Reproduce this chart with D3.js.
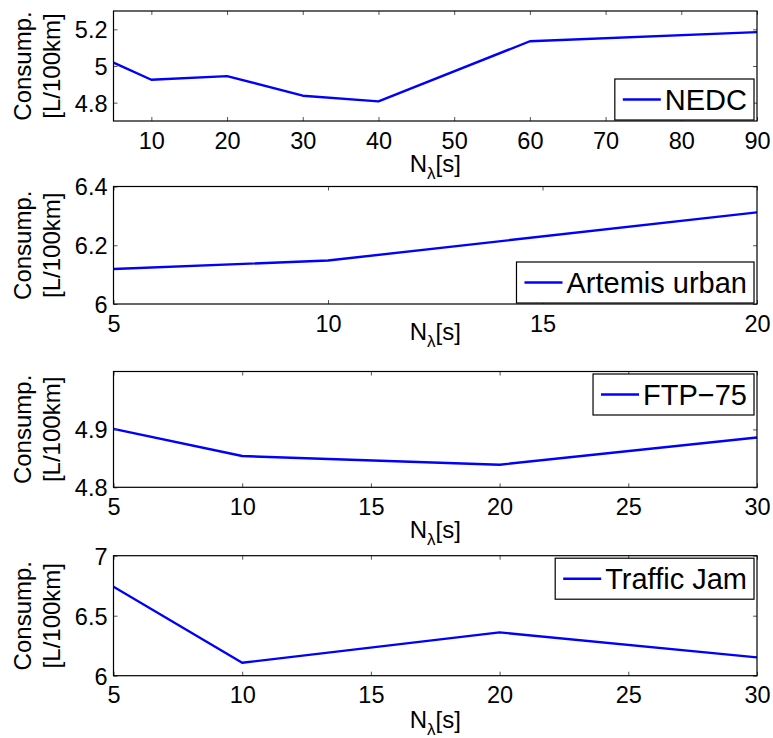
<!DOCTYPE html>
<html>
<head>
<meta charset="utf-8">
<script src="https://cdn.jsdelivr.net/npm/d3@7"></script>
<style>
  html, body { margin: 0; padding: 0; background: #fff; }
  svg { display: block; font-family: "Liberation Sans", Arial, Helvetica, sans-serif; }
</style>
</head>
<body>
<svg id="chart" width="773" height="738"></svg>
<script>
// ---- data ----
const nedcX = [5, 10, 20, 30, 40, 60, 90];
const nedcY = [5.018, 4.925, 4.945, 4.838, 4.807, 5.135, 5.185];
const artemisX = [5, 10, 20];
const artemisY = [6.119, 6.148, 6.312];
const ftpX = [5, 10, 20, 30];
const ftpY = [4.901, 4.854, 4.839, 4.886];
const jamX = [5, 10, 20, 30];
const jamY = [6.742, 6.108, 6.361, 6.153];

const nedcXTicks = [10, 20, 30, 40, 50, 60, 70, 80, 90];
const nedcYTicks = [4.8, 5, 5.2];
const artemisXTicks = [5, 10, 15, 20];
const artemisYTicks = [6, 6.2, 6.4];
const ftpXTicks = [5, 10, 15, 20, 25, 30];
const ftpYTicks = [4.8, 4.9];
const jamXTicks = [5, 10, 15, 20, 25, 30];
const jamYTicks = [6, 6.5, 7];

const legendNames = ["NEDC", "Artemis urban", "FTP\u221275", "Traffic Jam"];
const yLabelLines = ["Consump.", "[L/100km]"];

// ---- layout ----
const svg = d3.select("#chart");
const left = 113.5, right = 757;
const panels = [
  { x: nedcX, y: nedcY, xd: [5, 90], yd: [4.7, 5.3], xt: nedcXTicks, yt: nedcYTicks,
    top: 11, bottom: 121, legend: legendNames[0], pos: "SE", xlabOff: 51 },
  { x: artemisX, y: artemisY, xd: [5, 20], yd: [6, 6.4], xt: artemisXTicks, yt: artemisYTicks,
    top: 186.5, bottom: 304, legend: legendNames[1], pos: "SE", xlabOff: 36 },
  { x: ftpX, y: ftpY, xd: [5, 30], yd: [4.8, 5.0], xt: ftpXTicks, yt: ftpYTicks,
    top: 371.5, bottom: 487.3, legend: legendNames[2], pos: "NE", xlabOff: 51 },
  { x: jamX, y: jamY, xd: [5, 30], yd: [6, 7], xt: jamXTicks, yt: jamYTicks,
    top: 555.7, bottom: 675.7, legend: legendNames[3], pos: "NE", xlabOff: 52 }
];

const tickFont = 23.5, labFont = 24, legFont = 29, tickLen = 4;

panels.forEach((p, i) => {
  const xs = d3.scaleLinear().domain(p.xd).range([left, right]);
  const ys = d3.scaleLinear().domain(p.yd).range([p.bottom, p.top]);
  const g = svg.append("g");

  // clip
  const cid = "clip" + i;
  svg.append("clipPath").attr("id", cid).append("rect")
    .attr("x", left).attr("y", p.top).attr("width", right - left).attr("height", p.bottom - p.top);

  // data line
  const pts = p.x.map((v, k) => [v, p.y[k]]);
  g.append("path")
    .attr("d", d3.line().x(d => xs(d[0])).y(d => ys(d[1]))(pts))
    .attr("fill", "none").attr("stroke", "#0000ff").attr("stroke-width", 2.4)
    .attr("stroke-linejoin", "round")
    .attr("clip-path", `url(#${cid})`);

  // axes (ticks inward, mirrored)
  const fmt = d => String(d);
  const xb = g.append("g").attr("transform", `translate(0,${p.bottom})`)
    .call(d3.axisBottom(xs).tickValues(p.xt).tickSize(-tickLen).tickPadding(10).tickFormat(fmt));
  const xtAx = g.append("g").attr("transform", `translate(0,${p.top})`)
    .call(d3.axisTop(xs).tickValues(p.xt).tickSize(-tickLen).tickFormat(""));
  const yl = g.append("g").attr("transform", `translate(${left},0)`)
    .call(d3.axisLeft(ys).tickValues(p.yt).tickSize(-tickLen).tickPadding(6).tickFormat(fmt));
  const yr = g.append("g").attr("transform", `translate(${right},0)`)
    .call(d3.axisRight(ys).tickValues(p.yt).tickSize(-tickLen).tickFormat(""));
  [xb, xtAx, yl, yr].forEach(a => {
    a.select(".domain").remove();
    a.selectAll(".tick line").attr("stroke", "#555").attr("stroke-width", 1);
    a.selectAll("text").attr("font-size", tickFont).attr("fill", "#000")
      .attr("font-family", "Liberation Sans, Arial, sans-serif");
  });
  xb.selectAll(".tick text").attr("dy", null).attr("y", 27.5).attr("dominant-baseline", "auto");
  yl.selectAll(".tick text").attr("dy", "0.36em");

  // box
  g.append("rect").attr("x", left).attr("y", p.top)
    .attr("width", right - left).attr("height", p.bottom - p.top)
    .attr("fill", "none").attr("stroke", "#000").attr("stroke-width", 1.2);

  // y label
  const cy = (p.top + p.bottom) / 2;
  [31, 60].forEach((bx, k) => {
    g.append("text").attr("transform", `translate(${bx},${cy}) rotate(-90)`)
      .attr("text-anchor", "middle").attr("font-size", labFont).attr("fill", "#000")
      .text(yLabelLines[k]);
  });

  // x label N_λ[s]
  const xl = g.append("text").attr("x", (left + right) / 2).attr("y", p.bottom + p.xlabOff)
    .attr("text-anchor", "middle").attr("font-size", labFont).attr("fill", "#000");
  xl.append("tspan").text("N");
  xl.append("tspan").attr("font-size", 17).attr("dy", 7).text("\u03bb");
  xl.append("tspan").attr("dy", -7).text("[s]");

  // legend
  const lg = g.append("g");
  const lt = lg.append("text").attr("font-size", legFont).attr("fill", "#000").text(p.legend);
  const tw = lt.node().getComputedTextLength();
  const padL = 8, lineLen = 38, gap = 4, padR = 7, bh = 41;
  const bw = padL + lineLen + gap + tw + padR;
  const bx = right - 3 - bw;
  const by = p.pos === "SE" ? p.bottom - 1 - bh : p.top + 2.5;
  lg.insert("rect", "text").attr("x", bx).attr("y", by).attr("width", bw).attr("height", bh)
    .attr("fill", "#fff").attr("stroke", "#000").attr("stroke-width", 1.2);
  lg.append("line").attr("x1", bx + padL).attr("x2", bx + padL + lineLen)
    .attr("y1", by + bh / 2).attr("y2", by + bh / 2)
    .attr("stroke", "#0000ff").attr("stroke-width", 2.4);
  lt.attr("x", bx + padL + lineLen + gap).attr("y", by + bh / 2 + legFont * 0.36);
});
</script>
</body>
</html>
